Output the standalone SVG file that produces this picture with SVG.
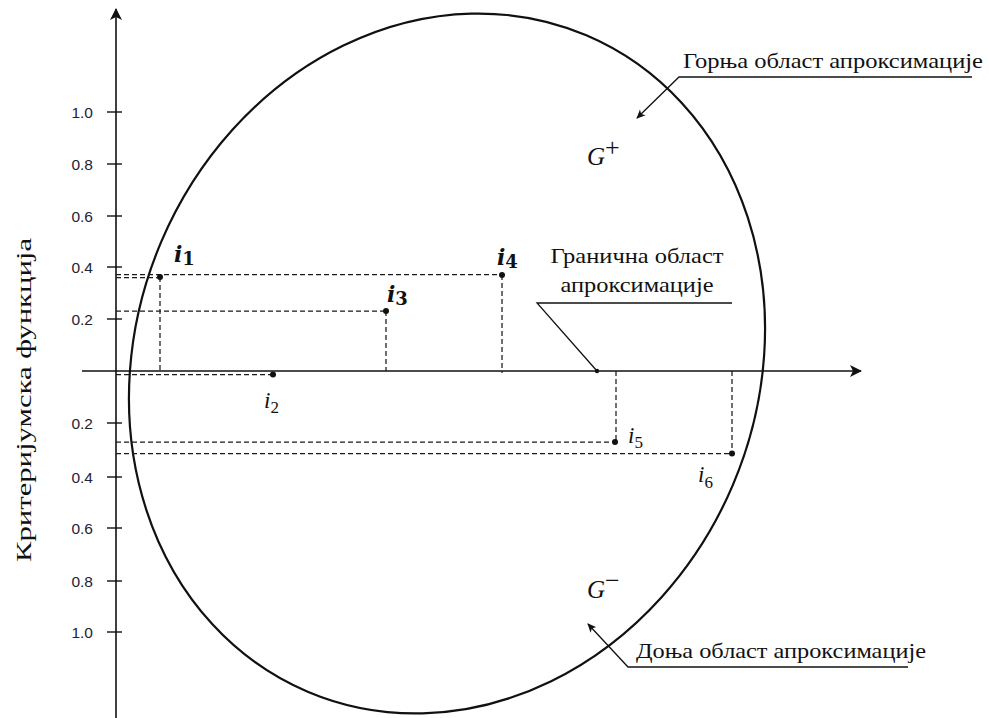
<svg xmlns="http://www.w3.org/2000/svg" width="989" height="718" viewBox="0 0 989 718">
<style>
.ax{stroke:#111;stroke-width:1.6;fill:none}
.tk{stroke:#111;stroke-width:1.4}
.dash{stroke:#1a1a1a;stroke-width:1.25;stroke-dasharray:5 3;fill:none}
.ln{stroke:#111;stroke-width:1.3;fill:none}
.num{font-family:"Liberation Sans",Arial,sans-serif;font-size:15.5px;fill:#1e2235;text-anchor:end}
.cyr{font-family:"Liberation Serif","Times New Roman",serif;font-size:21px;fill:#111}
.mb{font-family:"DejaVu Serif","Liberation Serif",serif;font-style:italic;font-weight:bold;fill:#111}
.mi{font-family:"Liberation Serif","DejaVu Serif",serif;font-style:italic;fill:#111}
.sub{font-style:normal}
.dot{fill:#111}
</style>
<defs>
<marker id="big" viewBox="0 0 12 12" markerWidth="12" markerHeight="12" refX="11" refY="6" orient="auto" markerUnits="userSpaceOnUse">
<path d="M0,0 L12,6 L0,12 L3,6 Z" fill="#111"/>
</marker>
<marker id="sm" viewBox="0 0 10 10" markerWidth="9" markerHeight="9" refX="9" refY="5" orient="auto" markerUnits="userSpaceOnUse">
<path d="M0,0.5 L10,5 L0,9.5 L2.5,5 Z" fill="#111"/>
</marker>
</defs>

<g id="region">
<ellipse cx="447" cy="363.5" rx="310.6" ry="356.6" transform="rotate(23 447 363.5)" fill="none" stroke="#111" stroke-width="2.2"/>
</g>

<g id="axes">
<line class="ax" x1="116" y1="718" x2="116" y2="9" marker-end="url(#big)"/>
<line class="ax" x1="82" y1="371" x2="861" y2="371" marker-end="url(#big)"/>
<g class="tk">
<line x1="107" y1="112" x2="122" y2="112"/>
<line x1="107" y1="164" x2="122" y2="164"/>
<line x1="107" y1="216" x2="122" y2="216"/>
<line x1="107" y1="267" x2="122" y2="267"/>
<line x1="107" y1="319" x2="122" y2="319"/>
<line x1="107" y1="423" x2="122" y2="423"/>
<line x1="107" y1="477" x2="122" y2="477"/>
<line x1="107" y1="528" x2="122" y2="528"/>
<line x1="107" y1="581" x2="122" y2="581"/>
<line x1="107" y1="632" x2="122" y2="632"/>
</g>
<g>
<text class="num" x="93" y="117.5">1.0</text>
<text class="num" x="93" y="169.5">0.8</text>
<text class="num" x="93" y="221.5">0.6</text>
<text class="num" x="93" y="272.5">0.4</text>
<text class="num" x="93" y="324.5">0.2</text>
<text class="num" x="93" y="428.5">0.2</text>
<text class="num" x="93" y="482.5">0.4</text>
<text class="num" x="93" y="533.5">0.6</text>
<text class="num" x="93" y="586.5">0.8</text>
<text class="num" x="93" y="637.5">1.0</text>
</g>
<text class="cyr" transform="translate(31 562) rotate(-90)" font-size="25" textLength="324" lengthAdjust="spacingAndGlyphs">Критеријумска функција</text>
</g>

<g id="connectors">
<line class="dash" x1="116" y1="274.5" x2="502" y2="274.5"/>
<line class="dash" x1="116" y1="277.5" x2="160" y2="277.5"/>
<line class="dash" x1="116" y1="311" x2="386" y2="311"/>
<line class="dash" x1="116" y1="374.5" x2="273" y2="374.5"/>
<line class="dash" x1="160" y1="277" x2="160" y2="371"/>
<line class="dash" x1="386" y1="311" x2="386" y2="371"/>
<line class="dash" x1="502" y1="275" x2="502" y2="373"/>
<line class="dash" x1="116" y1="442" x2="615" y2="442"/>
<line class="dash" x1="616" y1="371" x2="616" y2="442"/>
<line class="dash" x1="116" y1="453.5" x2="732" y2="453.5"/>
<line class="dash" x1="732" y1="371" x2="732" y2="453"/>
<polyline class="ln" points="732,303 537,303 597,371"/>
<polyline class="ln" points="972,77 679,77 637,118" marker-end="url(#sm)"/>
<polyline class="ln" points="908,667 628,667 588,624" marker-end="url(#sm)"/>
</g>

<g id="i1"><circle class="dot" cx="160" cy="277" r="3"/><text class="mb" x="174" y="262" font-size="22">i<tspan class="sub" font-size="18" dy="3">1</tspan></text></g>
<g id="i2"><circle class="dot" cx="273" cy="374.5" r="3"/><text class="mi" x="264" y="408" font-size="23">i<tspan class="sub" font-size="17" dy="5">2</tspan></text></g>
<g id="i3"><circle class="dot" cx="386" cy="311" r="3"/><text class="mb" x="387" y="302" font-size="22">i<tspan class="sub" font-size="18" dy="3">3</tspan></text></g>
<g id="i4"><circle class="dot" cx="502" cy="275" r="3"/><text class="mb" x="497" y="265" font-size="22">i<tspan class="sub" font-size="18" dy="3">4</tspan></text></g>
<g id="i5"><circle class="dot" cx="615" cy="442" r="3"/><text class="mi" x="628" y="443" font-size="23">i<tspan class="sub" font-size="17" dy="5">5</tspan></text></g>
<g id="i6"><circle class="dot" cx="732" cy="453.5" r="3"/><text class="mi" x="698" y="482" font-size="23">i<tspan class="sub" font-size="17" dy="6">6</tspan></text></g>
<g id="granicna"><circle class="dot" cx="597" cy="371" r="2.2"/>
<text class="cyr" x="637" y="263" text-anchor="middle" textLength="173" lengthAdjust="spacingAndGlyphs">Гранична област</text>
<text class="cyr" x="637" y="292" text-anchor="middle" textLength="153" lengthAdjust="spacingAndGlyphs">апроксимације</text>
</g>
<g id="gornja"><text class="cyr" x="683" y="68" textLength="300" lengthAdjust="spacingAndGlyphs">Горња област апроксимације</text></g>
<g id="donja"><text class="cyr" x="636" y="658" textLength="290" lengthAdjust="spacingAndGlyphs">Доња област апроксимације</text></g>
<g id="gplus"><text class="mi" x="587" y="165" font-size="25">G</text><text class="mi sub" x="605" y="156" font-size="26">+</text></g>
<g id="gminus"><text class="mi" x="587" y="598" font-size="25">G</text><text class="mi sub" x="605" y="589" font-size="26">−</text></g>
</svg>
